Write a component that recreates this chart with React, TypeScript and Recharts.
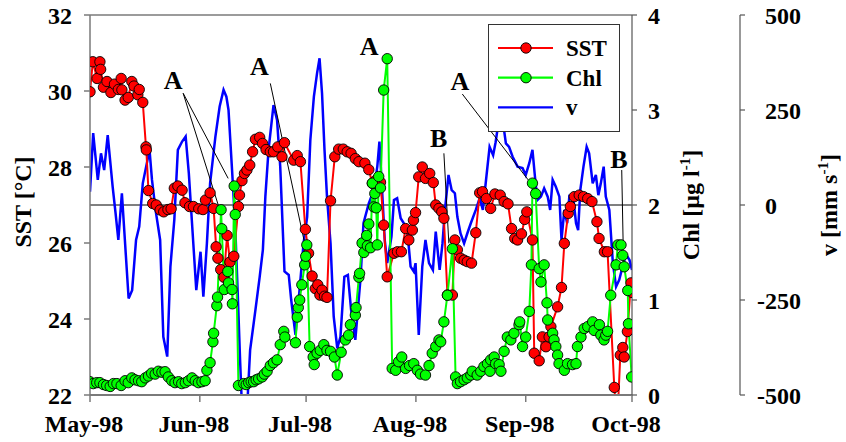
import React from "react";
import {
  ComposedChart,
  Line,
  XAxis,
  YAxis,
  ReferenceLine,
  ReferenceDot,
  Legend,
} from "recharts";

// day index: 0 = 1 May 1998
const monthTicks = [0, 31, 61, 92, 123, 153];
const monthLabels = ["May-98", "Jun-98", "Jul-98", "Aug-98", "Sep-98", "Oct-98"];
const sstTicks = [22, 24, 26, 28, 30, 32];
const chlTicks = [0, 1, 2, 3, 4];
const vTicks = [-500, -250, 0, 250, 500];

const sstDay = [
  0, 0.8, 2, 2.8, 3, 3.8, 4.8, 5.9, 6.9, 8, 8.8, 9, 9.9, 10.8, 11.8, 12.4, 13.5, 13.9, 14.9, 15.8,
  15.9, 16.5, 17.7, 18.7, 19.8, 20.8, 22, 22.9, 23.8, 24.8, 26, 26.8, 28.1, 29.2, 30.7, 31.9, 32.6, 33.9, 34.9, 35.6,
  36.1, 36.9, 37.8, 38.7, 39.5, 40.6, 41.9, 42.2, 42.9, 43.6, 44.3, 45.1, 45.9, 46.7, 47.9, 48.7, 49.7, 50.9, 51.8, 53,
  54.2, 54.9, 57.5, 58.5, 59.4, 60.8, 61.7, 62.7, 63.6, 64.3, 64.9, 65.5, 66.2, 66.9, 67.9, 69.1, 70.2, 71.5, 72.6, 73.7,
  74.9, 75.9, 77.6, 78.7, 79.7, 80.8, 82, 82.9, 83.9, 85.8, 86.8, 87.9, 89.1, 90, 91, 91.3, 91.9, 92.8, 93.8, 94.7,
  95.9, 96.9, 97.6, 98.5, 99.3, 99.9, 100.9, 102.3, 103, 103.7, 104.6, 105.6, 106.5, 107.7, 108.9, 110, 110.8, 111.9, 113.1, 114.3,
  115.8, 116.9, 118, 119, 119.9, 120.7, 121.8, 122.7, 123.3, 124.9, 125.4, 126.8, 127.7, 128.7, 129.6, 130.1, 132, 133.1, 133.9, 135,
  135.6, 136.7, 138.1, 139.3, 140.5, 141.7, 143.1, 143.7, 145.2, 146.1, 148, 148.8, 149.7, 150.4, 150.8, 151.7, 152.7, 153,
];
const sst = [
  29.98, 30.77, 30.33, 30.77, 30.57, 30.1, 30.25, 29.96, 30.18, 30.04, 30.33, 30.03, 29.76, 29.83, 30.25, 30.13, 29.9, 30.04, 29.7, 28.53,
  28.45, 27.38, 27.04, 27.0, 26.87, 26.82, 26.88, 26.9, 27.44, 27.5, 27.39, 27.06, 26.96, 26.96, 26.9, 26.88, 27.13, 27.32, 26.91, 25.9,
  25.6, 25.3, 25.1, 26.2, 25.5, 25.65, 26.96, 27.26, 27.64, 27.83, 27.92, 28.05, 28.4, 28.73, 28.78, 28.62, 28.46, 28.4, 28.4, 28.53,
  28.27, 28.64, 28.18, 28.3, 28.14, 26.36, 25.73, 25.13, 24.8, 24.9, 24.63, 24.76, 24.6, 24.57, 27.11, 28.27, 28.47, 28.47, 28.4, 28.36,
  28.22, 28.14, 28.1, 27.93, 27.57, 27.66, 27.6, 26.47, 25.11, 25.73, 25.77, 25.77, 26.38, 26.08, 26.34, 26.6, 26.8, 27.74, 28.0, 27.7,
  27.83, 27.59, 27.0, 26.91, 26.82, 26.65, 24.63, 24.63, 26.08, 25.82, 25.6, 25.55, 25.51, 25.47, 26.27, 27.32, 27.35, 27.17, 26.91, 27.29,
  27.26, 27.09, 27.03, 26.38, 26.12, 26.08, 26.24, 26.62, 26.82, 26.08, 23.1, 22.9, 23.53, 23.27, 23.53, 23.8, 24.32, 24.83, 25.99, 26.78,
  26.96, 27.22, 27.26, 27.22, 27.17, 27.09, 26.56, 26.12, 25.77, 25.77, 22.2, 21.2, 23.05, 23.25, 23.0, 23.67, 24.95, 24.7,
];

const chlDay = [
  0, 0.9, 1.9, 2.8, 3.8, 4.7, 5.7, 6.6, 7.6, 8.8, 9.9, 10.8, 11.8, 12.7, 13.7, 14.6, 15.6, 16.5, 17.4, 18.4,
  19.3, 20.3, 21.2, 22.1, 23.1, 24, 25, 25.9, 26.9, 27.8, 28.8, 29.7, 30.6, 31.6, 32.5, 33, 33.9, 34.7, 34.9, 35.8,
  36, 37, 37.2, 37.9, 38.9, 39.1, 40.1, 40.2, 40.7, 41, 41.9, 43.4, 44.1, 44.8, 45.5, 46.2, 46.9, 47.6, 48.6, 49.2,
  50, 50.9, 51.8, 52.8, 53.7, 54.7, 55, 58, 58.5, 58.8, 59.2, 59.8, 60.6, 60.9, 61.2, 62, 63, 63.3, 64.1, 65,
  66, 66.9, 67.9, 69, 69.8, 70.9, 72.1, 73, 73.5, 74.9, 75.1, 75.9, 76.1, 76.8, 77.3, 78.1, 78.3, 78.7, 79.2, 79.7,
  80.1, 80.4, 80.8, 81.1, 81.5, 82, 82.9, 83.9, 85.3, 86.3, 87.1, 88, 89.1, 90.2, 91.4, 92.4, 93.3, 94.7, 95.7, 96.6,
  97.6, 98.5, 99, 99.9, 100.9, 102.3, 103.2, 103.7, 104.6, 105.6, 106.5, 107.5, 107.9, 109.3, 110.3, 111.2, 112.2, 112.9, 113.1, 114.1,
  114.5, 115.5, 116, 116.9, 117.8, 118.8, 119.7, 121.1, 121.3, 122.1, 123, 124, 124.6, 124.9, 125.8, 126.8, 127.3, 128.2, 129, 129.2,
  130.6, 131, 131.5, 132, 132.4, 133.9, 134.8, 136.2, 137.2, 137.6, 138.6, 139.5, 140.5, 141.9, 142.3, 143.8, 144.2, 145.1, 145.6, 146.1,
  147, 148.5, 149, 149.9, 150.4, 150.8, 151.8, 152, 152.9,
];
const chl = [
  0.14, 0.12, 0.13, 0.13, 0.11, 0.1, 0.09, 0.12, 0.12, 0.1, 0.15, 0.13, 0.18, 0.16, 0.15, 0.14, 0.18, 0.2, 0.23, 0.22,
  0.25, 0.24, 0.245, 0.19, 0.15, 0.13, 0.14, 0.12, 0.13, 0.15, 0.18, 0.15, 0.13, 0.14, 0.15, 0.26, 0.34, 0.56, 0.65, 0.94,
  1.03, 1.95, 1.75, 1.11, 1.3, 1.18, 1.11, 0.96, 2.2, 1.9, 0.1, 0.12, 0.11, 0.13, 0.14, 0.14, 0.16, 0.17, 0.19, 0.22,
  0.25, 0.31, 0.34, 0.37, 0.53, 0.67, 0.61, 0.55, 0.82, 0.92, 1.0, 1.16, 1.37, 1.46, 1.58, 0.51, 0.4, 0.32, 0.44, 0.47,
  0.53, 0.47, 0.46, 0.4, 0.21, 0.45, 0.58, 0.63, 0.74, 0.84, 0.92, 1.24, 1.28, 1.6, 1.5, 1.68, 1.57, 1.8, 1.55, 2.23,
  1.98, 2.12, 1.97, 1.58, 2.3, 2.18, 3.21, 3.54, 0.28, 0.26, 0.35, 0.4, 0.28, 0.31, 0.33, 0.26, 0.22, 0.21, 0.31, 0.44,
  0.51, 0.58, 0.56, 0.77, 1.05, 1.54, 0.19, 0.12, 0.14, 0.16, 0.18, 0.21, 0.25, 0.21, 0.25, 0.3, 0.33, 0.25, 0.37, 0.4,
  0.33, 0.32, 0.25, 0.46, 0.61, 0.58, 0.65, 0.74, 0.77, 0.51, 0.61, 0.88, 1.37, 2.23, 2.12, 1.33, 1.19, 1.37, 0.97, 0.79,
  0.65, 0.58, 0.51, 0.42, 0.33, 0.26, 0.33, 0.32, 0.33, 0.51, 0.61, 0.7, 0.72, 0.77, 0.68, 0.74, 0.63, 0.58, 0.63, 0.67,
  1.05, 1.37, 1.58, 1.58, 1.47, 1.35, 1.1, 0.75, 0.19,
];

const vDay = [
  0, 0.9, 2.2, 3.1, 4, 5, 6.4, 7.2, 8, 9, 9.9, 10.9, 11.9, 13, 13.9, 14.9, 16.8, 17.5, 18.5, 19.8,
  20.7, 21.8, 22.7, 23.8, 24.8, 26, 27, 27.9, 28.8, 30, 31.2, 32, 33, 33.9, 35.4, 36.6, 37.7, 38.5, 39.1, 40.1,
  41, 41.7, 42.4, 43.1, 44.1, 45.2, 46.7, 47.9, 48.8, 49.5, 50.4, 51.8, 52.8, 53.7, 54.9, 56.1, 56.8, 58, 58.9, 60.3,
  61.3, 62.2, 63.2, 64.1, 64.8, 65.5, 66.2, 66.9, 67.9, 68.8, 69.8, 70.7, 71.8, 72.8, 73.7, 74.9, 76.4, 77.2, 78.7, 80.1,
  81.1, 81.7, 82.5, 83.2, 83.9, 85.1, 85.8, 86.7, 87.7, 88.6, 89.6, 90.5, 91.4, 91.9, 92.8, 93.8, 94.7, 95.7, 96.8, 97.6,
  98.7, 99.5, 100.2, 101.2, 102.1, 103, 103.7, 104.6, 105.6, 106.5, 107.5, 108.9, 110, 110.9, 111.9, 112.8, 113.8, 114.5, 115.2, 116.4,
  117.4, 118.3, 119.3, 120.7, 122.1, 123, 124, 124.9, 125.6, 126.3, 127.3, 128.2, 129.2, 129.9, 130.6, 131.5, 132.5, 133.1, 133.9, 134.7,
  135.3, 136.5, 137.2, 137.8, 138.4, 139.3, 140.2, 140.9, 141.9, 142.8, 143.5, 144.2, 145, 145.6, 146.6, 147.6, 148.5, 149.4, 150.4, 151.3,
  152.3, 153,
];
const v = [
  35, 189, 66, 136, 92, 184, 48, -20, -92, 31, -100, -246, -224, -92, -57, 57, 145, 66, -13, -92,
  -347, -399, -162, -39, 145, 167, 180, 83, -48, -224, -123, -241, -101, 57, 180, 259, 303, 285, 250, 92,
  -57, -232, -416, -580, -580, -382, -276, -189, -118, 22, 145, 263, 224, 101, -175, -184, -250, -342, -250, -100,
  -31, 171, 285, 347, 386, 294, 145, 22, -101, -294, -377, -347, -189, -184, -276, -355, -189, -48, 4, 39,
  101, 167, 31, -92, -153, -83, 13, 18, -35, -48, -70, -162, -175, -153, -342, -162, -92, -153, -171, -70,
  -171, -101, -13, 79, 39, 31, -31, -75, -101, -75, -48, -13, 18, -13, 75, 153, 131, 165, 210, 230,
  162, 153, 127, 101, 97, 79, 110, 145, 75, 13, 22, 44, 22, -13, 66, 48, 22, -92, -13, -48,
  22, 13, -48, -66, 39, 101, 153, 136, 57, 79, 26, 57, 101, 22, -13, -153, -215, -197, -160, -130,
  -145, -171,
];

// annotation letters and leader lines, in (day, SST) coordinates
const noteText = ["A", "A", "A", "A", "B", "B"];
const noteDay = [23.5, 47.8, 78.8, 104.4, 98.4, 149.3];
const noteSst = [30.29, 30.66, 31.18, 30.26, 28.76, 28.21];
const leaderFrom = [[26.3, 29.94], [26.3, 29.94], [50.9, 30.2], [105.1, 29.92], [99.9, 28.36], [150.1, 27.92]];
const leaderTo = [[36.3, 26.97], [39.0, 27.7], [60.4, 26.08], [123.7, 27.66], [101.3, 25.99], [150.5, 25.99]];

const legendItems = [
  { name: "SST", color: "#ff0000", dot: true },
  { name: "Chl", color: "#00ff00", dot: true },
  { name: "v", color: "#0000ff", dot: false },
];

type Row = { d: number; sst?: number; chl?: number; v?: number };
const rowMap = new Map<number, Row>();
const put = (days: number[], vals: number[], key: "sst" | "chl" | "v") => {
  days.forEach((d, i) => {
    const r = rowMap.get(d) ?? { d };
    r[key] = vals[i];
    rowMap.set(d, r);
  });
};
put(sstDay, sst, "sst");
put(chlDay, chl, "chl");
put(vDay, v, "v");
const data = [...rowMap.values()].sort((a, b) => a.d - b.d);

const FONT = "'Liberation Serif', 'Times New Roman', serif";
const AXIS = "#7a7a7a";
const DOT_R = 5.2;

const XTick = (p: any) => (
  <text x={p.x - 6} y={p.y} dy="0.71em" textAnchor="middle" fill="#000" fontSize={24} fontWeight="bold">
    {monthLabels[monthTicks.indexOf(p.payload.value)]}
  </text>
);

const VTick = (p: any) => (
  <text x={p.x + (p.payload.value < 0 ? -8 : 0)} y={p.y} dy="0.355em" textAnchor="start" fill="#000" fontSize={24} fontWeight="bold">
    {p.payload.value}
  </text>
);

const LegendBox = () => (
  <div style={{ width: 132, height: 108, boxSizing: "border-box", border: "1.5px solid #333", background: "#fff" }}>
    <svg width={129} height={105}>
      {legendItems.map((it, i) => {
        const cy = 23 + i * 29.7;
        return (
          <g key={it.name}>
            <line x1={9} x2={64} y1={cy} y2={cy} stroke={it.color} strokeWidth={2.2} />
            {it.dot && <circle cx={37} cy={cy} r={DOT_R} fill={it.color} stroke="#000" strokeWidth={0.9} />}
            <text x={77} y={cy + 8} fontSize={23} fontWeight="bold" fontFamily={FONT} fill="#000">
              {it.name}
            </text>
          </g>
        );
      })}
    </svg>
  </div>
);

export default function App() {
  return (
    <div style={{ position: "absolute", left: 0, top: 0, width: 846, height: 442, background: "#fff", fontFamily: FONT, fontWeight: "bold" }}>
      <ComposedChart width={846} height={442} data={data} margin={{ top: 15, right: 0, bottom: 0, left: 0 }}>
        <XAxis
          dataKey="d"
          type="number"
          domain={[0, 153]}
          ticks={monthTicks}
          allowDataOverflow
          height={47}
          tickSize={7}
          tickMargin={13}
          tick={<XTick />}
          axisLine={{ stroke: AXIS, strokeWidth: 2 }}
          tickLine={{ stroke: AXIS, strokeWidth: 1.5 }}
        />
        <YAxis
          yAxisId="sst"
          orientation="left"
          domain={[22, 32]}
          ticks={sstTicks}
          allowDataOverflow
          width={90}
          tickSize={6}
          tickMargin={12}
          tick={{ fill: "#000", fontSize: 24, fontWeight: "bold" }}
          axisLine={{ stroke: AXIS, strokeWidth: 1.5 }}
          tickLine={{ stroke: AXIS, strokeWidth: 1.5 }}
          label={() => (
            <text x={31} y={202} transform="rotate(-90 31 202)" textAnchor="middle" fontSize={24} fontWeight="bold" fill="#000">
              SST [°C]
            </text>
          )}
        />
        <YAxis
          yAxisId="chl"
          orientation="right"
          domain={[0, 4]}
          ticks={chlTicks}
          allowDataOverflow
          width={108}
          tickSize={5}
          tickMargin={11}
          tick={{ fill: "#000", fontSize: 24, fontWeight: "bold" }}
          axisLine={{ stroke: "#555", strokeWidth: 1.2 }}
          tickLine={{ stroke: "#555", strokeWidth: 1.2 }}
          label={() => (
            <text x={699} y={205} transform="rotate(-90 699 205)" textAnchor="middle" fontSize={24} fontWeight="bold" fill="#000">
              Chl [µg l<tspan dy={-9} fontSize={15}>-1</tspan>
              <tspan dy={9}>]</tspan>
            </text>
          )}
        />
        <YAxis
          yAxisId="v"
          orientation="right"
          domain={[-500, 500]}
          ticks={vTicks}
          allowDataOverflow
          width={106}
          tickSize={5}
          tickMargin={20}
          tick={<VTick />}
          axisLine={{ stroke: "#555", strokeWidth: 1.2 }}
          tickLine={{ stroke: "#555", strokeWidth: 1.2 }}
          label={() => (
            <text x={837} y={205} transform="rotate(-90 837 205)" textAnchor="middle" fontSize={24} fontWeight="bold" fill="#000">
              v [mm s<tspan dy={-9} fontSize={15}>-1</tspan>
              <tspan dy={9}>]</tspan>
            </text>
          )}
        />

        <ReferenceLine yAxisId="sst" y={32} stroke={AXIS} strokeWidth={1.5} />
        <ReferenceLine yAxisId="v" y={0} stroke="#000" strokeWidth={1} />

        <Line yAxisId="v" dataKey="v" type="linear" stroke="#0000ff" strokeWidth={2.5} dot={false} activeDot={false} connectNulls isAnimationActive={false} />
        <Line
          yAxisId="sst"
          dataKey="sst"
          type="linear"
          stroke="#ff0000"
          strokeWidth={2}
          dot={{ r: DOT_R, fill: "#ff0000", stroke: "#000", strokeWidth: 0.9 }}
          activeDot={false}
          connectNulls
          isAnimationActive={false}
        />
        <Line
          yAxisId="chl"
          dataKey="chl"
          type="linear"
          stroke="#00ff00"
          strokeWidth={2}
          dot={{ r: DOT_R, fill: "#00ff00", stroke: "#000", strokeWidth: 0.9 }}
          activeDot={false}
          connectNulls
          isAnimationActive={false}
        />

        {leaderFrom.map((f, i) => (
          <ReferenceLine
            key={"l" + i}
            yAxisId="sst"
            segment={[{ x: f[0], y: f[1] }, { x: leaderTo[i][0], y: leaderTo[i][1] }]}
            stroke="#000"
            strokeWidth={1}
          />
        ))}
        {noteText.map((t, i) => (
          <ReferenceDot
            key={"n" + i}
            yAxisId="sst"
            x={noteDay[i]}
            y={noteSst[i]}
            r={0}
            fill="none"
            stroke="none"
            label={{ value: t, position: "center", fontSize: 26, fontWeight: "bold", fill: "#000" }}
          />
        ))}

        <Legend
          layout="horizontal"
          verticalAlign="middle"
          align="center"
          wrapperStyle={{ left: 488, top: 24, width: 132, height: 108 }}
          content={() => <LegendBox />}
        />
      </ComposedChart>
    </div>
  );
}
